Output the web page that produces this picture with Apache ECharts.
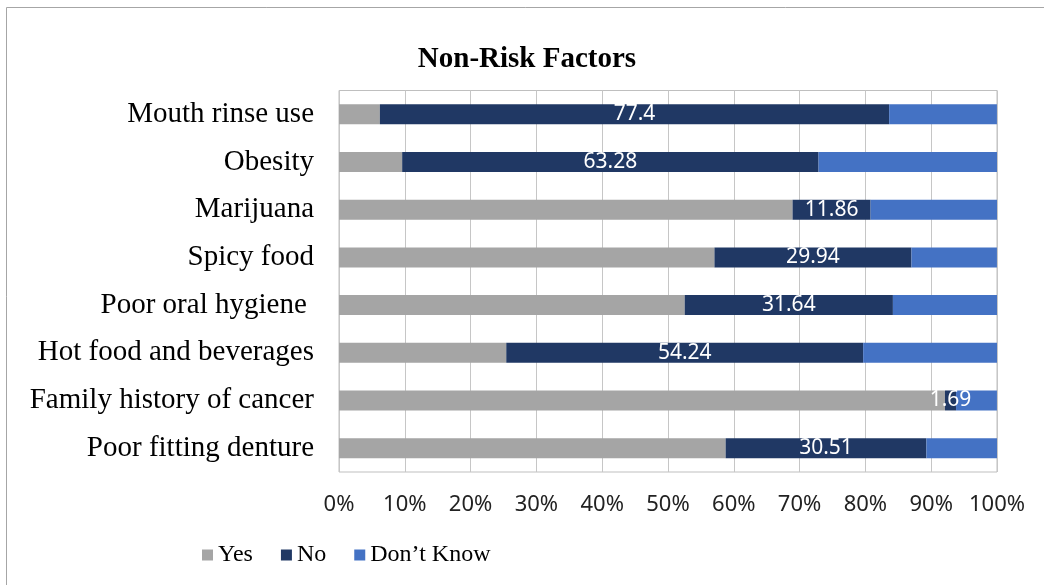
<!DOCTYPE html>
<html>
<head>
<meta charset="utf-8">
<title>Non-Risk Factors</title>
<script src="https://cdn.jsdelivr.net/npm/echarts@6/dist/echarts.min.js"></script>
<style>
  html, body { margin: 0; padding: 0; background: #ffffff; }
  #chart { width: 1044px; height: 585px; }
</style>
</head>
<body>
<div id="chart"></div>
<script>
// Factors, listed top to bottom
const categories = [
  'Mouth rinse use',
  'Obesity',
  'Marijuana',
  'Spicy food',
  'Poor oral hygiene ',
  'Hot food and beverages',
  'Family history of cancer',
  'Poor fitting denture'
];

// Share of respondents (%) per answer
const yesValues = [6.21, 9.60, 68.93, 57.06, 52.54, 25.42, 92.09, 58.76];
const noValues = [77.4, 63.28, 11.86, 29.94, 31.64, 54.24, 1.69, 30.51];
const dontKnowValues = [16.38, 27.12, 19.21, 12.99, 15.82, 20.34, 6.21, 10.73];

const xTicks = [0, 10, 20, 30, 40, 50, 60, 70, 80, 90, 100];

const chart = echarts.init(document.getElementById('chart'), null, { renderer: 'canvas' });

const serif = '"Liberation Serif", "Times New Roman", serif';
const sans = '"Noto Sans", "Open Sans", sans-serif';

chart.setOption({
  animation: false,
  backgroundColor: '#ffffff',
  title: {
    text: 'Non-Risk Factors',
    left: 522,
    top: 40,
    textAlign: 'center',
    textStyle: { fontFamily: serif, fontWeight: 'bold', fontSize: 29, color: '#000000' }
  },
  graphic: [{
    type: 'rect',
    shape: { x: 6.5, y: 7.5, width: 1100, height: 620 },
    style: { fill: 'none', stroke: '#a6a6a6', lineWidth: 1 },
    silent: true
  }],
  legend: {
    left: 197,
    top: 538,
    icon: 'rect',
    itemWidth: 11,
    itemHeight: 11,
    itemGap: 28,
    textStyle: { fontFamily: serif, fontSize: 24, color: '#000000' },
    data: ['Yes', 'No', 'Don\u2019t Know']
  },
  grid: {
    left: 339,
    top: 90.5,
    width: 658,
    height: 381.5,
    show: true,
    borderColor: '#bfbfbf',
    borderWidth: 1,
    containLabel: false
  },
  xAxis: {
    type: 'value',
    min: xTicks[0],
    max: xTicks[xTicks.length - 1],
    interval: xTicks[1] - xTicks[0],
    axisLine: { show: false },
    axisTick: { show: false },
    splitLine: { show: true, lineStyle: { color: '#c6c6c6', width: 1 } },
    axisLabel: {
      margin: 22,
      fontFamily: sans,
      fontSize: 22,
      color: '#222222',
      formatter: v => v + '%'
    }
  },
  yAxis: {
    type: 'category',
    inverse: true,
    data: categories,
    axisLine: { show: false },
    axisTick: { show: false },
    splitLine: { show: false },
    axisLabel: {
      margin: 25,
      fontFamily: serif,
      fontSize: 29,
      color: '#000000'
    }
  },
  series: [
    {
      name: 'Yes',
      type: 'bar',
      stack: 'total',
      barWidth: 20,
      itemStyle: { color: '#a5a5a5' },
      data: yesValues
    },
    {
      name: 'No',
      type: 'bar',
      stack: 'total',
      barWidth: 20,
      itemStyle: { color: '#203864' },
      label: {
        show: true,
        position: 'inside',
        color: '#ffffff',
        fontFamily: sans,
        fontSize: 21,
        formatter: p => String(p.value)
      },
      data: noValues
    },
    {
      name: 'Don\u2019t Know',
      type: 'bar',
      stack: 'total',
      barWidth: 20,
      itemStyle: { color: '#4472c4' },
      data: dontKnowValues
    }
  ]
});
</script>
</body>
</html>
